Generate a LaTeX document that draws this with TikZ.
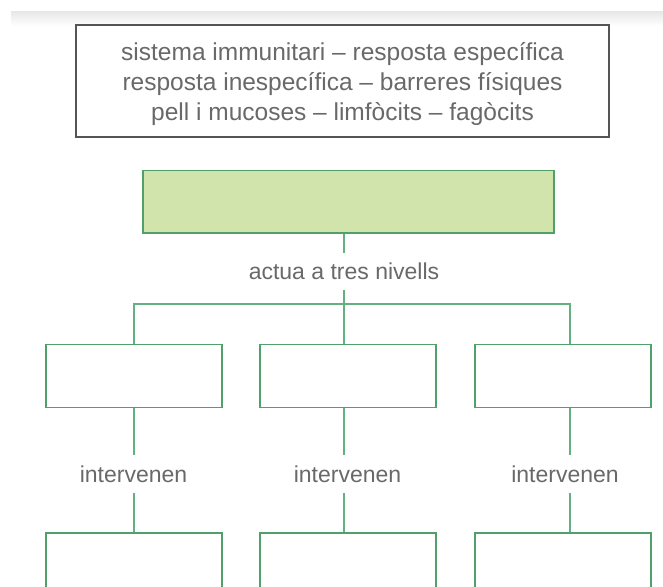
\documentclass[tikz,border=0pt]{standalone}
\usepackage{fontspec}
\setmainfont{Liberation Sans}
\definecolor{gline}{RGB}{100,176,128}
\definecolor{gbord}{RGB}{80,160,108}
\definecolor{gfill}{RGB}{208,228,172}
\definecolor{boxgrey}{RGB}{85,85,85}
\definecolor{tgrey}{RGB}{105,105,105}
\begin{document}
\begin{tikzpicture}[x=1pt,y=-1pt,
  conn/.style={draw=gline, line width=1.4pt},
  gbox/.style={draw=gbord, line width=1.5pt, fill=white, minimum width=176pt, minimum height=63pt, inner sep=0pt},
  lbl/.style={font=\fontsize{23}{28}\selectfont, text=tgrey, inner sep=0pt}]
\clip (0,0) rectangle (663,586);
\fill[white] (0,0) rectangle (663,586);
\shade[top color=black!9, bottom color=white] (11,12) rectangle (663,26);
% word list
\node[draw=boxgrey, line width=1.2pt, minimum width=533pt, minimum height=112pt, inner sep=0pt] (words) at (342.5,81) {};
\node[align=center, font=\fontsize{24.5}{30}\selectfont, text=tgrey, inner sep=0pt] (wordtext) at (342.5,84.5)
  {sistema immunitari -- resposta específica\\ resposta inespecífica -- barreres físiques\\ pell i mucoses -- limfòcits -- fagòcits};
% main concept
\node[draw=gbord, fill=gfill, line width=1.5pt, minimum width=411pt, minimum height=62.5pt, inner sep=0pt] (main) at (348.5,201.5) {};
\node[lbl, minimum height=37pt] (lab) at (344,271.5) {actua a tres nivells};
\coordinate (hub) at (344,304);
\coordinate (c1) at (134,304);
\coordinate (c3) at (570,304);
% level boxes
\node[gbox] (b1) at (134,376) {};
\node[gbox] (b2) at (348,376) {};
\node[gbox] (b3) at (563,376) {};
\node[lbl, minimum height=38pt] (i1) at (133.5,474) {intervenen};
\node[lbl, minimum height=38pt] (i2) at (347.5,474) {intervenen};
\node[lbl, minimum height=38pt] (i3) at (565,474) {intervenen};
\node[gbox] (d1) at (134,564.5) {};
\node[gbox] (d2) at (348,564.5) {};
\node[gbox] (d3) at (563,564.5) {};
% connectors
\draw[conn] (main.south -| lab.center) -- (lab.north);
\draw[conn] (lab.south) -- (hub);
\draw[conn] (c1 |- b1.north) -- (c1) -- (c3) -- (c3 |- b3.north);
\draw[conn] (hub) -- (hub |- b2.north);
\draw[conn] (c1 |- b1.south) -- (c1 |- i1.north);
\draw[conn] (c1 |- i1.south) -- (c1 |- d1.north);
\draw[conn] (hub |- b2.south) -- (hub |- i2.north);
\draw[conn] (hub |- i2.south) -- (hub |- d2.north);
\draw[conn] (c3 |- b3.south) -- (c3 |- i3.north);
\draw[conn] (c3 |- i3.south) -- (c3 |- d3.north);
\end{tikzpicture}
\end{document}
